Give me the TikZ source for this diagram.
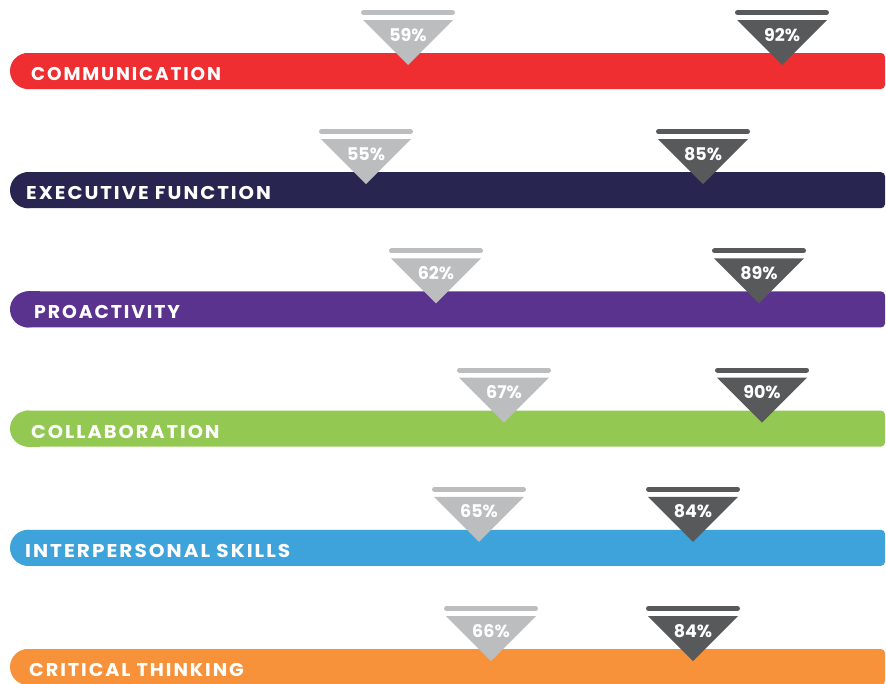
\documentclass[tikz,border=0pt]{standalone}
\usepackage{fontspec}
\setmainfont{Poppins}
\newfontfamily\labfont[LetterSpace=10]{Poppins}
\definecolor{cRed}{HTML}{EE2E31}
\definecolor{cNavy}{HTML}{282550}
\definecolor{cPurple}{HTML}{5A338F}
\definecolor{cGreen}{HTML}{93C953}
\definecolor{cBlue}{HTML}{3DA3DA}
\definecolor{cOrange}{HTML}{F7923A}
\definecolor{cLight}{HTML}{BCBDBF}
\definecolor{cDark}{HTML}{58595B}
\begin{document}
\begin{tikzpicture}[x=1pt,y=-1pt,
  lbl/.style={text=white,inner sep=0pt,anchor=base west,font=\labfont\bfseries\fontsize{18.5}{20}\selectfont},
  pct/.style={text=white,inner sep=0pt,anchor=base,font=\bfseries\fontsize{17.5}{19}\selectfont},
  capbar/.style={line width=5pt,line cap=round}]
\useasboundingbox (0,0) rectangle (886,683);
\foreach \i/\lab/\lx/\sx/\col/\ga/\gp/\da/\dp in {
  0/COMMUNICATION/31/1.0/cRed/408/59/782/92,
  1/EXECUTIVE FUNCTION/26/1.065/cNavy/366/55/703/85,
  2/PROACTIVITY/34/1.02/cPurple/436/62/759/89,
  3/COLLABORATION/31/1.05/cGreen/504/67/762/90,
  4/INTERPERSONAL SKILLS/25/1.085/cBlue/479/65/693/84,
  5/CRITICAL THINKING/29/1.04/cOrange/491/66/693/84}
{
  \pgfmathsetmacro\T{53+119.2*\i}
  % bar
  \fill[\col,rounded corners=4pt] (22,\T) rectangle (885,{\T+36});
  \fill[\col] (28,{\T+18}) circle[radius=18];
  \fill[\col] (28,\T) rectangle (40,{\T+36});
  \node[lbl,xscale=\sx] (lab\i) at (\lx,{\T+27.5}) {\lab};
  % light marker
  \draw[cLight,capbar] ({\ga-44.5},{\T-40.5}) -- ({\ga+44.5},{\T-40.5});
  \fill[cLight] ({\ga-45},{\T-33}) -- ({\ga+45},{\T-33}) -- (\ga,{\T+12}) -- cycle;
  \node[pct] (g\i) at (\ga,{\T-12}) {\gp\%};
  % dark marker
  \draw[cDark,capbar] ({\da-44.5},{\T-40.5}) -- ({\da+44.5},{\T-40.5});
  \fill[cDark] ({\da-45},{\T-33}) -- ({\da+45},{\T-33}) -- (\da,{\T+12}) -- cycle;
  \node[pct] (d\i) at (\da,{\T-12}) {\dp\%};
}
\end{tikzpicture}
\end{document}
